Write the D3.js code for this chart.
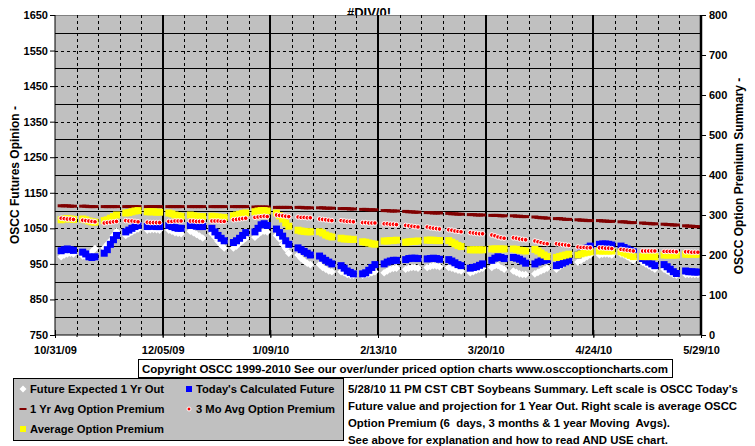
<!DOCTYPE html>
<html><head><meta charset="utf-8">
<script src="https://cdn.jsdelivr.net/npm/d3@7/dist/d3.min.js"></script>
<style>
body{margin:0;background:#fff}
text{font-family:Arial,"Liberation Sans",sans-serif;font-weight:bold;font-size:11px;fill:#000}
</style>
</head><body>
<svg id="c" width="755" height="446"></svg>
<script>
// ---------- DATA ----------
const titleText = "#DIV/0!";
const xTickDates = ["2009-10-31","2009-12-05","2010-01-09","2010-02-13","2010-03-20","2010-04-24","2010-05-29"];
const xTickLabels = ["10/31/09","12/05/09","1/09/10","2/13/10","3/20/10","4/24/10","5/29/10"];
const leftTicks = [750,850,950,1050,1150,1250,1350,1450,1550,1650];
const rightTicks = [0,100,200,300,400,500,600,700,800];
const firstTradingDay = "2009-11-02";
const weeksShown = 30;

// one value per trading day (Mon-Fri), 30 weeks
const futureExpected = [
 970,975,978,980,978, 972,970,975,985,993, 995,1005,1015,1030,1042, 1030,1035,1040,1045,1048,
 1045,1046,1047,1046,1045, 1045,1042,1038,1036,1035, 1042,1038,1033,1028,1023, 1035,1025,1013,1003,995,
 995,1000,1008,1015,1022, 1025,1033,1040,1042,1040, 1030,1020,1005,993,980, 975,965,958,952,948,
 948,940,935,930,928, 928,925,920,918,918, 918,920,922,925,928, 925,930,935,937,938,
 935,938,940,940,938, 940,943,945,944,942, 940,938,935,932,930, 925,928,932,935,938,
 940,945,945,940,935, 930,926,922,920,920, 922,926,930,934,938, 935,942,948,955,960,
 955,960,965,970,975, 975,977,978,977,975, 978,975,970,965,960, 955,950,945,940,935,
 935,930,925,920,918, 920,920,920,920,920];
const todaysFuture = [
 987,990,992,990,988, 983,978,970,968,970, 980,990,1005,1018,1030, 1040,1045,1050,1055,1058,
 1055,1056,1056,1055,1055, 1058,1055,1052,1050,1050, 1058,1058,1056,1055,1055, 1050,1040,1030,1022,1015,
 1010,1015,1022,1030,1038, 1040,1050,1060,1063,1058, 1048,1038,1028,1015,1005, 995,990,985,980,975,
 972,966,960,955,950, 945,938,930,926,922, 922,925,932,940,948, 950,955,958,960,960,
 962,965,966,966,965, 964,965,966,965,963, 962,958,953,948,945, 938,940,942,946,950,
 960,966,970,968,965, 968,966,963,958,952, 950,955,958,960,962, 945,948,952,956,960,
 975,982,990,995,1000, 1005,1006,1006,1005,1003, 1000,996,992,988,984, 965,960,955,950,945,
 948,942,935,928,923, 930,928,928,927,927];
const oneYrAvgPremium = [
 323,323,323,322,322, 322,322,321,321,321, 321,321,321,321,321, 321,321,321,321,321,
 321,321,321,321,321, 321,321,321,321,321, 321,321,321,321,321, 321,321,321,321,321,
 321,321,321,321,321, 320,320,320,320,320, 319,319,319,319,319, 319,319,318,318,318,
 318,318,317,317,317, 316,316,316,315,315, 314,314,313,313,313, 311,311,310,310,310,
 309,308,308,307,307, 306,306,305,305,305, 304,303,303,302,302, 301,301,300,300,300,
 299,299,299,298,298, 298,297,297,296,296, 295,294,293,293,292, 291,291,290,289,289,
 288,287,287,286,286, 286,285,285,284,284, 283,283,282,281,281, 280,279,279,278,278,
 277,276,276,275,275, 273,272,272,271,271];
const threeMoAvgPremium = [
 292,291,290,290,289, 287,286,285,284,283, 280,281,282,283,284, 286,285,285,284,283,
 282,281,281,281,281, 284,284,285,285,285, 285,285,284,284,284, 285,285,285,284,284,
 288,289,290,291,292, 294,295,296,297,296, 300,299,298,297,296, 295,294,294,293,293,
 290,289,288,287,286, 286,285,284,284,283, 281,281,280,280,280, 278,278,277,277,276,
 274,273,272,271,270, 270,268,267,266,265, 263,262,260,259,258, 256,255,254,253,253,
 250,248,245,243,242, 243,242,240,239,238, 235,233,231,229,228, 228,227,226,225,224,
 220,219,219,218,218, 218,218,217,217,216, 214,213,212,211,210, 210,210,210,210,210,
 209,209,209,209,208, 208,208,207,207,207];
const avgPremium = [
 288,290,291,290,289, 290,288,285,283,282, 286,288,292,296,300, 305,306,308,310,311,
 308,308,308,307,307, 305,303,300,298,297, 300,298,297,296,296, 297,296,295,294,294,
 298,300,302,304,305, 308,310,311,311,310, 305,298,290,280,272, 262,260,259,258,258,
 258,255,250,247,245, 242,240,240,239,239, 233,232,230,228,227, 235,235,236,236,237,
 232,233,234,234,235, 237,237,237,236,236, 236,232,228,224,221, 213,213,213,213,213,
 215,215,215,215,215, 215,214,212,211,210, 214,210,205,200,196, 194,196,198,200,202,
 200,203,205,207,208, 210,210,210,210,210, 208,205,202,199,196, 196,196,196,196,196,
 200,200,200,200,200, 202,202,202,202,202];

const legendLabels = ["Future Expected 1 Yr Out","Today's Calculated Future","1 Yr Avg Option Premium","3 Mo Avg Option Premium","Average Option Premium"];
const copyrightText = "Copyright OSCC 1999-2010 See our over/under priced option charts www.osccoptioncharts.com";
const noteLines = [
 "5/28/10 11 PM CST CBT Soybeans Summary. Left scale is OSCC Today's",
 "Future value and projection for 1 Year Out. Right scale is average OSCC",
 "Option Premium (6  days, 3 months & 1 year Moving  Avgs).",
 "See above for explanation and how to read AND USE chart."];
const leftTitle = "OSCC Futures Opinion -";
const rightTitle = "OSCC Option Premium Summary -";

// ---------- LAYOUT ----------
const svg = d3.select("#c");
const P = {l:55, r:701, t:15, b:335};
const parse = d3.utcParse("%Y-%m-%d");
const tickDates = xTickDates.map(parse);
const x = d3.scaleUtc().domain([tickDates[0], tickDates[tickDates.length-1]]).range([P.l, P.r]);
const yL = d3.scaleLinear().domain([750,1650]).range([P.b, P.t]);
const yR = d3.scaleLinear().domain([0,800]).range([P.b, P.t]);

// trading days
const d0 = parse(firstTradingDay);
const days = [];
for (let w=0; w<weeksShown; w++) for (let d=0; d<5; d++) days.push(d3.utcDay.offset(d0, w*7+d));

// title (partly hidden behind the plot area)
svg.append("text").attr("x",369).attr("y",17).attr("text-anchor","middle")
  .style("font-size","13px").text(titleText);

// plot background
svg.append("rect").attr("x",P.l).attr("y",P.t).attr("width",P.r-P.l).attr("height",P.b-P.t)
  .attr("fill","#c0c0c0");
svg.append("line").attr("x1",P.l).attr("x2",P.r).attr("y1",P.t+0.5).attr("y2",P.t+0.5)
  .attr("stroke","#808080");

// grid: horizontal (solid at 850,950,..; dashed at 800,900,..)
const g = svg.append("g");
for (let v=800; v<1650; v+=50) {
  const solid = (v-750)%100 !== 0;
  g.append("line").attr("x1",P.l).attr("x2",P.r)
    .attr("y1",Math.round(yL(v))+0.5).attr("y2",Math.round(yL(v))+0.5)
    .attr("stroke","#000").attr("stroke-width",1)
    .attr("stroke-dasharray", solid ? null : "3,3");
}
// weekly vertical grid
const sats = d3.utcSaturday.range(d3.utcDay.offset(tickDates[0],1), tickDates[tickDates.length-1]);
sats.forEach(dt => {
  const major = tickDates.some(t => +t === +dt);
  const xx = Math.round(x(dt));
  g.append("line").attr("x1",xx+(major?0:0.5)).attr("x2",xx+(major?0:0.5)).attr("y1",P.t).attr("y2",P.b)
    .attr("stroke","#000").attr("stroke-width", major?2:1)
    .attr("stroke-dasharray", major?null:"3,3");
});

// ---------- SERIES ----------
const S = svg.append("g");
S.selectAll(".fe").data(futureExpected).join("path")
  .attr("d", (v,i)=>{const cx=x(days[i]), cy=yL(v), r=3.8; return `M${cx},${cy-r}L${cx+r},${cy}L${cx},${cy+r}L${cx-r},${cy}Z`;})
  .attr("fill","#fff");
S.selectAll(".tf").data(todaysFuture).join("rect")
  .attr("x",(v,i)=>x(days[i])-3.5).attr("y",v=>yL(v)-3.5).attr("width",7).attr("height",7)
  .attr("fill","#0000ff");
S.selectAll(".oy").data(oneYrAvgPremium).join("rect")
  .attr("x",(v,i)=>x(days[i])-3.5).attr("y",v=>yR(v)-1.5).attr("width",7).attr("height",3)
  .attr("fill","#800000");
S.selectAll(".ap").data(avgPremium).join("rect")
  .attr("x",(v,i)=>x(days[i])-3.5).attr("y",v=>yR(v)-3.5).attr("width",7).attr("height",7)
  .attr("fill","#ffff00");
S.selectAll(".tm").data(threeMoAvgPremium).join("circle")
  .attr("cx",(v,i)=>x(days[i])).attr("cy",v=>yR(v)).attr("r",2.3)
  .attr("fill","#ff0000").attr("stroke","#fff").attr("stroke-width",1);

// ---------- AXES ----------
const axL = svg.append("g").attr("transform",`translate(${P.l},0)`)
  .call(d3.axisLeft(yL).tickValues(leftTicks).tickSize(5).tickPadding(2).tickFormat(d3.format("d")));
const axR = svg.append("g").attr("transform",`translate(${P.r},0)`)
  .call(d3.axisRight(yR).tickValues(rightTicks).tickSize(5).tickPadding(3).tickFormat(d3.format("d")));
axR.select(".domain").attr("stroke-width",2.5);
const axB = svg.append("g").attr("transform",`translate(0,${P.b})`)
  .call(d3.axisBottom(x).tickValues(tickDates).tickSize(3).tickPadding(8).tickFormat((d,i)=>xTickLabels[i]));
axB.selectAll(".tick line").attr("y1",-5);
const axBm = svg.append("g").attr("transform",`translate(0,${P.b})`)
  .call(d3.axisBottom(x).tickValues(sats).tickSize(2).tickFormat(""));
axBm.select(".domain").remove();
[axL,axR,axB].forEach(a=>{
  a.selectAll("text").attr("font-family",null).attr("font-size",null).style("font-size","11px");
  a.select(".domain").attr("stroke","#000");
});
axL.select(".domain").attr("d",`M0,${P.t}V${P.b}`);
axR.select(".domain").attr("d",`M0,${P.t}V${P.b}`);
axB.select(".domain").attr("d",`M${P.l},0H${P.r}`);

// axis titles
svg.append("text").attr("transform","translate(19,175) rotate(-90)").attr("text-anchor","middle")
  .style("font-size","12px").text(leftTitle);
svg.append("text").attr("transform","translate(743,176) rotate(-90)").attr("text-anchor","middle")
  .style("font-size","12px").text(rightTitle);

// copyright box
svg.append("rect").attr("x",138.5).attr("y",359.5).attr("width",534).attr("height",18)
  .attr("fill","#fff").attr("stroke","#000");
svg.append("text").attr("x",405).attr("y",372.5).attr("text-anchor","middle")
  .style("font-size","11.5px").text(copyrightText);

// legend
svg.append("rect").attr("x",13.5).attr("y",378.5).attr("width",330).attr("height",62)
  .attr("fill","#c0c0c0").attr("stroke","#000");
const L = svg.append("g");
const rowY = [389, 409, 429];
const items = [
  {c:23, y:rowY[0], t:legendLabels[0], tx:30, k:"diamond"},
  {c:189, y:rowY[0], t:legendLabels[1], tx:196, k:"blue"},
  {c:23, y:rowY[1], t:legendLabels[2], tx:30, k:"dash"},
  {c:189, y:rowY[1], t:legendLabels[3], tx:196, k:"circle"},
  {c:23, y:rowY[2], t:legendLabels[4], tx:30, k:"yellow"}];
items.forEach(it=>{
  if (it.k==="diamond") L.append("path").attr("d",`M${it.c},${it.y-3.5}L${it.c+3.5},${it.y}L${it.c},${it.y+3.5}L${it.c-3.5},${it.y}Z`).attr("fill","#fff");
  if (it.k==="blue") L.append("rect").attr("x",it.c-3).attr("y",it.y-3).attr("width",6).attr("height",6).attr("fill","#0000ff");
  if (it.k==="yellow") L.append("rect").attr("x",it.c-3).attr("y",it.y-3).attr("width",6).attr("height",6).attr("fill","#ffff00");
  if (it.k==="dash") L.append("rect").attr("x",it.c-3.5).attr("y",it.y-1).attr("width",7).attr("height",2).attr("fill","#800000");
  if (it.k==="circle") L.append("circle").attr("cx",it.c).attr("cy",it.y).attr("r",2).attr("fill","#ff0000").attr("stroke","#fff").attr("stroke-width",1);
  L.append("text").attr("x",it.tx).attr("y",it.y+4).style("font-size","11.2px").text(it.t);
});

// note text
noteLines.forEach((s,i)=>{
  svg.append("text").attr("x",348).attr("y",393+i*17).attr("xml:space","preserve")
    .style("white-space","pre").style("font-size","11.4px").text(s);
});
</script>
</body></html>
